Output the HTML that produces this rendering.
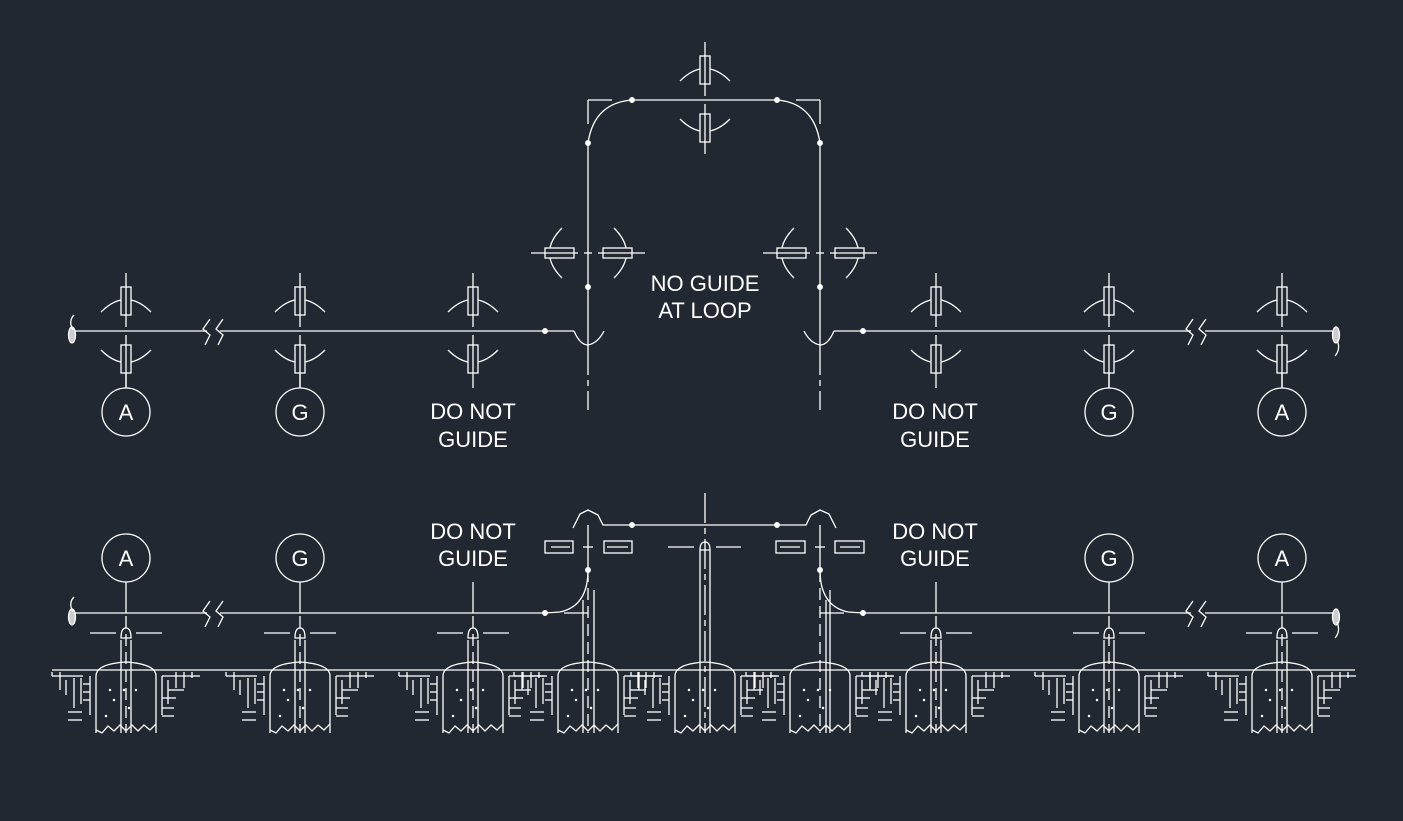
<!DOCTYPE html>
<html><head><meta charset="utf-8">
<style>
html,body{margin:0;padding:0;background:#222831;}
svg{display:block;}
text{font-family:"Liberation Sans",sans-serif;fill:#fff;font-size:22px;text-anchor:middle;}
</style></head>
<body>
<svg id="s" width="1403" height="821" viewBox="0 0 1403 821" xmlns="http://www.w3.org/2000/svg">
<rect width="1403" height="821" fill="#222831"/>
<g id="g" stroke="#fff" stroke-width="1.3" fill="none"></g>
<g>
<text x="705" y="291">NO GUIDE</text>
<text x="705" y="318">AT LOOP</text>
<text x="473" y="419">DO NOT</text>
<text x="473" y="447">GUIDE</text>
<text x="935" y="419">DO NOT</text>
<text x="935" y="447">GUIDE</text>
<text x="473" y="539">DO NOT</text>
<text x="473" y="566">GUIDE</text>
<text x="935" y="539">DO NOT</text>
<text x="935" y="566">GUIDE</text>
<text x="126" y="420">A</text>
<text x="300" y="420">G</text>
<text x="1109" y="420">G</text>
<text x="1282" y="420">A</text>
<text x="126" y="566">A</text>
<text x="300" y="566">G</text>
<text x="1109" y="566">G</text>
<text x="1282" y="566">A</text>
</g>
</svg>
<script>
var g=document.getElementById('g'),h='';
function L(x1,y1,x2,y2,e){h+='<line x1="'+x1+'" y1="'+y1+'" x2="'+x2+'" y2="'+y2+'"'+(e||'')+'/>';}
function P(d,e){h+='<path d="'+d+'"'+(e||'')+'/>';}
function R(x,y,w,hh){h+='<rect x="'+x+'" y="'+y+'" width="'+w+'" height="'+hh+'"/>';}
function C(x,y,r,f){h+='<circle cx="'+x+'" cy="'+y+'" r="'+r+'"'+(f?' fill="#fff"':'')+'/>';}
var DD=' stroke-dasharray="30,5,6,5"';
// vertical guide symbol (top row)
function vg(x,yc,top,bot){
  L(x,top,x,yc-4);L(x,yc+4,x,bot);
  R(x-5,yc-44,10,28);R(x-5,yc+14,10,28);
  P('M'+(x-25)+' '+(yc-19)+' Q'+(x-15)+' '+(yc-29)+' '+(x-5)+' '+(yc-31));
  P('M'+(x+25)+' '+(yc-19)+' Q'+(x+15)+' '+(yc-29)+' '+(x+5)+' '+(yc-31));
  P('M'+(x-25)+' '+(yc+19)+' Q'+(x-15)+' '+(yc+29)+' '+(x-5)+' '+(yc+31));
  P('M'+(x+25)+' '+(yc+19)+' Q'+(x+15)+' '+(yc+29)+' '+(x+5)+' '+(yc+31));
}
// horizontal guide symbol
function hg(x,y){
  L(x-57,y,x-10,y);L(x-4,y,x+4,y);L(x+10,y,x+57,y);
  R(x-43,y-5,29,10);R(x+15,y-5,29,10);
  P('M'+(x-26)+' '+(y-25)+' Q'+(x-36)+' '+(y-15)+' '+(x-38)+' '+(y-5));
  P('M'+(x-26)+' '+(y+25)+' Q'+(x-36)+' '+(y+15)+' '+(x-38)+' '+(y+5));
  P('M'+(x+26)+' '+(y-25)+' Q'+(x+36)+' '+(y-15)+' '+(x+38)+' '+(y-5));
  P('M'+(x+26)+' '+(y+25)+' Q'+(x+36)+' '+(y+15)+' '+(x+38)+' '+(y+5));
}
function brk(x,y){
  P('M'+(x+3)+' '+(y-12)+' L'+(x-4)+' '+(y-2)+' L'+(x+3)+' '+(y+4)+' L'+(x-2)+' '+(y+14));
  P('M'+(x+16)+' '+(y-12)+' L'+(x+9)+' '+(y-2)+' L'+(x+16)+' '+(y+4)+' L'+(x+11)+' '+(y+14));
}
function endcap(x,y,right){
  h+='<ellipse cx="'+x+'" cy="'+(y+4)+'" rx="3.5" ry="8" fill="#ccc" stroke="#fff"/>';
  if(!right)P('M'+(x+1)+' '+(y-1)+' Q'+(x-4)+' '+(y-10)+' '+(x+2)+' '+(y-16));
  else P('M'+(x+1)+' '+(y+9)+' Q'+(x+5)+' '+(y+18)+' '+(x-1)+' '+(y+25));
}
var xs=[126,300,473,936,1109,1282];
// ===== TOP ROW =====
var y1=331;
L(74,y1,207,y1);L(220,y1,545,y1);L(863,y1,1191,y1);L(1205,y1,1338,y1);
brk(207,y1);brk(1190,y1);endcap(72,y1,false);endcap(1336,y1,true);
xs.forEach(function(x){vg(x,y1,273,388);});
[126,300,1109,1282].forEach(function(x){C(x,412,24);L(x,373,x,388);});
// loop
L(588,143,588,345);L(588,345,588,410,DD);
L(820,143,820,345);L(820,345,820,410,DD);
P('M588 143 Q594 103 632 100');P('M820 143 Q814 103 777 100');
L(632,100,777,100);
L(588,100,612,100);L(588,100,588,124);L(820,100,796,100);L(820,100,820,124);
vg(705,100,42,154);
hg(588,253);hg(820,253);
L(545,331,574,331);P('M574 331 Q580 345 588 345 Q598 343 604 331');
L(863,331,834,331);P('M834 331 Q828 345 820 345 Q810 343 804 331');
[[588,143],[588,287],[545,331],[632,100],[777,100],[820,143],[820,287],[863,331]].forEach(function(p){C(p[0],p[1],2.3,1);});
// ===== BOTTOM ROW =====
var y2=613,gy=670;
L(74,y2,207,y2);L(220,y2,545,y2);L(863,y2,1191,y2);L(1205,y2,1338,y2);
brk(207,y2);brk(1190,y2);endcap(72,y2,false);endcap(1336,y2,true);
[126,300,1109,1282].forEach(function(x){C(x,558,24);L(x,582,x,y2);});
L(473,582,473,y2);L(936,582,936,y2);
L(52,gy,1355,gy);
function footing(x){
  P('M'+(x-30)+' 733 L'+(x-30)+' 676 Q'+(x-30)+' 664 '+x+' 662 Q'+(x+30)+' 664 '+(x+30)+' 676 L'+(x+30)+' 733');
  P('M'+(x-30)+' 730 L'+(x-24)+' 733 L'+(x-18)+' 726 L'+(x-12)+' 731 L'+(x-6)+' 725 L'+(x)+' 731 L'+(x+6)+' 725 L'+(x+12)+' 731 L'+(x+18)+' 725 L'+(x+24)+' 730 L'+(x+30)+' 724');
  // hatching left
  var s=[[x-43,676,x-58,676],[x-43,684,x-36,684],[x-43,692,x-36,692],[x-43,700,x-36,700],[x-58,712,x-44,712],[x-58,720,x-44,720]];
  s.forEach(function(a){L(a[0],a[1],a[2],a[3]);});
  L(x-36,676,x-36,715);L(x-45,678,x-45,704);L(x-52,678,x-52,708);L(x-60,680,x-60,695);L(x-66,672,x-66,690);
  L(x-74,676,x-58,676);L(x-74,672,x-74,676);
  // right
  L(x+36,676,x+36,715);L(x+42,680,x+42,704);L(x+50,672,x+50,688);L(x+58,672,x+58,688);L(x+66,672,x+66,678);
  L(x+36,676,x+68,676);L(x+42,690,x+58,690);L(x+36,698,x+50,698);L(x+36,708,x+48,708);L(x+36,716,x+48,716);L(x+68,676,x+74,676);
  [[x-16,690],[x-2,690],[x+10,690],[x-12,700],[x+3,708],[x-20,716]].forEach(function(p){C(p[0],p[1],0.6,1);});
}
xs.forEach(function(x){
  footing(x);
  L(x-5,640,x-5,733);L(x+5,640,x+5,733);L(x,616,x,733,' stroke-dasharray="12,6"');
  P('M'+(x-5)+' 638 Q'+(x-5)+' 628 '+x+' 628 Q'+(x+5)+' 628 '+(x+5)+' 638 Z');
  L(x-36,633,x-10,633);L(x+10,633,x+36,633);
});
[588,705,820].forEach(function(x){footing(x);});
// central support
L(705,493,705,733,DD);L(700,550,700,733);L(710,550,710,733);
P('M700 550 Q700 542 705 542 Q710 542 710 550 Z');
L(668,547,694,547);L(716,547,741,547);
// loop bottom
L(632,525,777,525);
P('M632 525 L603 525 L598 515 L588 510 L580 514 L573 528');
P('M777 525 L806 525 L811 515 L820 510 L829 514 L836 528');
L(588,525,588,570);L(820,525,820,570);
P('M588 570 Q588 606 560 612');L(545,613,560,612);
P('M820 570 Q820 606 848 612');L(863,613,848,612);
L(588,570,588,733,' stroke-dasharray="12,6"');L(820,570,820,733,' stroke-dasharray="12,6"');
L(583,600,583,733);L(594,590,594,733);L(830,590,830,733);L(826,600,826,733);
L(564,613,588,613);L(844,613,820,613);
// rect guides bottom
R(545,541,28,12);R(604,541,28,12);L(551,547,570,547);L(607,547,628,547);L(583,547,593,547);
R(776,541,29,12);R(835,541,29,12);L(780,547,800,547);L(840,547,860,547);L(815,547,825,547);
[[588,570],[820,570],[545,613],[863,613],[632,525],[777,525]].forEach(function(p){C(p[0],p[1],2.3,1);});
g.innerHTML=h;
</script>
</body></html>
